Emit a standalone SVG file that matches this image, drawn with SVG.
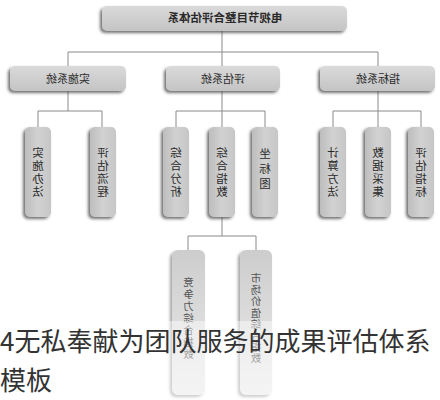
<svg xmlns="http://www.w3.org/2000/svg" width="440" height="400" viewBox="0 0 440 400">
<defs>
<filter id="sh" x="-30%" y="-30%" width="160%" height="160%">
<feDropShadow dx="-2" dy="2" stdDeviation="1.6" flood-color="#444" flood-opacity="0.75"/>
</filter>
<filter id="sh2" x="-30%" y="-30%" width="160%" height="160%">
<feDropShadow dx="-2" dy="2" stdDeviation="1.6" flood-color="#666" flood-opacity="0.6"/>
</filter>
<linearGradient id="g1" x1="0" y1="0" x2="0" y2="1">
<stop offset="0" stop-color="#dadada"/>
<stop offset="1" stop-color="#c4c4c4"/>
</linearGradient>
<linearGradient id="g2" x1="0" y1="0" x2="1" y2="0">
<stop offset="0" stop-color="#bdbdbd"/>
<stop offset="0.5" stop-color="#d2d2d2"/>
<stop offset="1" stop-color="#c6c6c6"/>
</linearGradient>
<linearGradient id="g3" x1="0" y1="0" x2="0" y2="1">
<stop offset="0" stop-color="#cdcdcd"/>
<stop offset="1" stop-color="#ebebeb"/>
</linearGradient>
</defs>
<style>
.b1{fill:url(#g1);filter:url(#sh)}
.b2{fill:url(#g2);filter:url(#sh)}
.b3{fill:url(#g3);filter:url(#sh2)}
.t{font-family:"Noto Sans CJK SC","Noto Sans",sans-serif;fill:#2a2a2a;text-anchor:middle}
.tt{font-size:11.5px;font-weight:bold}
.t2{font-size:11px}
.tv{font-size:11.5px}
.tl{font-size:10.5px;fill:#555}
.ln{stroke:#8a8a8a;stroke-width:1;fill:none}
.cap{font-family:"Noto Sans CJK SC","Noto Sans",sans-serif;font-size:26px;fill:#333}
</style>
<rect width="440" height="400" fill="#fff"/>
<g id="connectors">
<path class="ln" d="M222 31V52M68 52H378M68 52V66M222 52V66M378 52V66"/>
<path class="ln" d="M68 91V111M38 111H102M38 111V127M102 111V127"/>
<path class="ln" d="M222 91V111M176 111H265M176 111V127M222 111V127M265 111V127"/>
<path class="ln" d="M378 91V111M333 111H421M333 111V127M378 111V127M421 111V127"/>
<path class="ln" d="M222 217V236M188 236H256M188 236V250M256 236V250"/>
</g>
<g id="n_root"><rect class="b1" x="102" y="6" width="245" height="25" rx="5"/>
<text class="t tt" x="225" y="22" transform="matrix(-1 0 0 1 450 0)">电视节目整合评估体系</text></g>
<g id="n_shishi"><rect class="b1" x="10" y="66" width="116" height="25" rx="5"/>
<text class="t t2" x="68" y="82.5" transform="matrix(-1 0 0 1 136 0)">实施系统</text></g>
<g id="n_pinggu"><rect class="b1" x="166" y="66" width="114" height="25" rx="5"/>
<text class="t t2" x="223" y="82.5" transform="matrix(-1 0 0 1 446 0)">评估系统</text></g>
<g id="n_zhibiao"><rect class="b1" x="320" y="66" width="115" height="25" rx="5"/>
<text class="t t2" x="378" y="82.5" transform="matrix(-1 0 0 1 756 0)">指标系统</text></g>
<g id="n_ssbf"><rect class="b2" x="25" y="127" width="26" height="90" rx="5"/>
<text class="t tv" transform="matrix(-1 0 0 1 76 0)"><tspan x="38" y="156.5">实</tspan><tspan x="38" y="169.5">施</tspan><tspan x="38" y="182.5">办</tspan><tspan x="38" y="195.5">法</tspan></text></g>
<g id="n_pglc"><rect class="b2" x="90" y="127" width="26" height="90" rx="5"/>
<text class="t tv" transform="matrix(-1 0 0 1 206 0)"><tspan x="103" y="156.5">评</tspan><tspan x="103" y="169.5">估</tspan><tspan x="103" y="182.5">流</tspan><tspan x="103" y="195.5">程</tspan></text></g>
<g id="n_zhfx"><rect class="b2" x="163" y="127" width="26" height="90" rx="5"/>
<text class="t tv" transform="matrix(-1 0 0 1 352 0)"><tspan x="176" y="156.5">综</tspan><tspan x="176" y="169.5">合</tspan><tspan x="176" y="182.5">分</tspan><tspan x="176" y="195.5">析</tspan></text></g>
<g id="n_zhzs"><rect class="b2" x="209" y="127" width="26" height="90" rx="5"/>
<text class="t tv" transform="matrix(-1 0 0 1 444 0)"><tspan x="222" y="156.5">综</tspan><tspan x="222" y="169.5">合</tspan><tspan x="222" y="182.5">指</tspan><tspan x="222" y="195.5">数</tspan></text></g>
<g id="n_zbt"><rect class="b2" x="252" y="127" width="26" height="90" rx="5"/>
<text class="t tv" transform="matrix(-1 0 0 1 530 0)"><tspan x="265" y="157.5">坐</tspan><tspan x="265" y="172.5">标</tspan><tspan x="265" y="187.5">图</tspan></text></g>
<g id="n_jsff"><rect class="b2" x="320" y="127" width="26" height="90" rx="5"/>
<text class="t tv" transform="matrix(-1 0 0 1 666 0)"><tspan x="333" y="156.5">计</tspan><tspan x="333" y="169.5">算</tspan><tspan x="333" y="182.5">方</tspan><tspan x="333" y="195.5">法</tspan></text></g>
<g id="n_sjcj"><rect class="b2" x="365" y="127" width="26" height="90" rx="5"/>
<text class="t tv" transform="matrix(-1 0 0 1 756 0)"><tspan x="378" y="156.5">数</tspan><tspan x="378" y="169.5">据</tspan><tspan x="378" y="182.5">采</tspan><tspan x="378" y="195.5">集</tspan></text></g>
<g id="n_pgzb"><rect class="b2" x="408" y="127" width="26" height="90" rx="5"/>
<text class="t tv" transform="matrix(-1 0 0 1 842 0)"><tspan x="421" y="156.5">评</tspan><tspan x="421" y="169.5">估</tspan><tspan x="421" y="182.5">指</tspan><tspan x="421" y="195.5">标</tspan></text></g>
<g id="n_jzl"><rect class="b3" x="172" y="250" width="33" height="145" rx="6"/>
<text class="t tl" transform="matrix(-1 0 0 1 377 0)"><tspan x="188.5" y="286">竞</tspan><tspan x="188.5" y="298">争</tspan><tspan x="188.5" y="310">力</tspan><tspan x="188.5" y="322">综</tspan><tspan x="188.5" y="334">合</tspan><tspan x="188.5" y="346">指</tspan><tspan x="188.5" y="358">数</tspan></text></g>
<g id="n_scjz"><rect class="b3" x="240" y="250" width="32" height="145" rx="6"/>
<text class="t tl" transform="matrix(-1 0 0 1 512 0)"><tspan x="256" y="282">市</tspan><tspan x="256" y="293.5">场</tspan><tspan x="256" y="305">价</tspan><tspan x="256" y="316.5">值</tspan><tspan x="256" y="328">综</tspan><tspan x="256" y="339.5">合</tspan><tspan x="256" y="351">指</tspan><tspan x="256" y="362">数</tspan></text></g>
<rect x="0" y="321" width="440" height="79" fill="#fff" opacity="0.45"/>
<text class="cap" x="0" y="351">4无私奉献为团队服务的成果评估体系</text>
<text class="cap" x="0" y="390">模板</text>
</svg>
